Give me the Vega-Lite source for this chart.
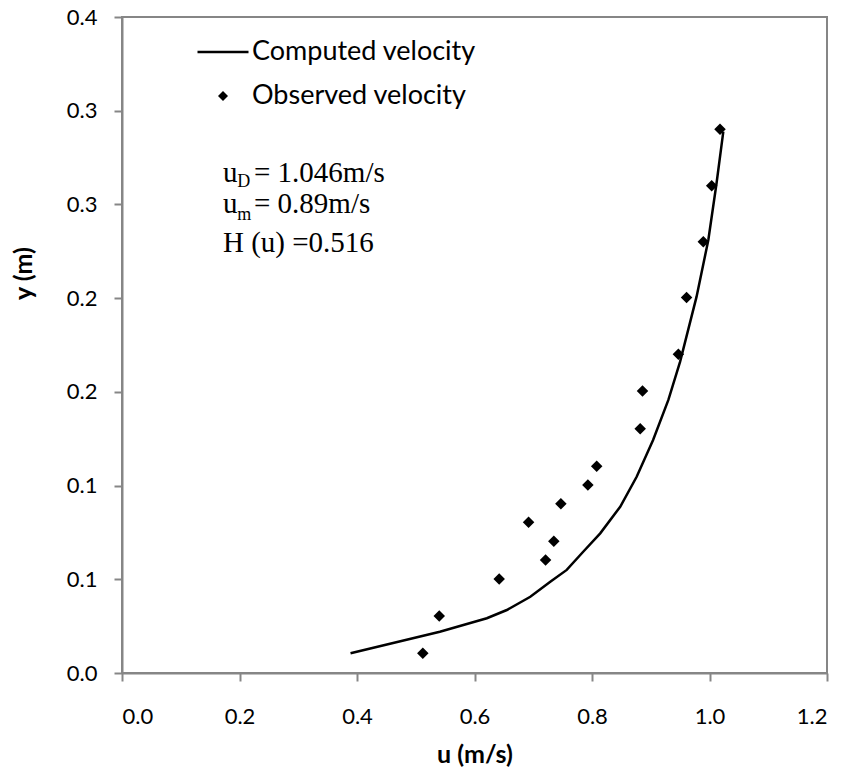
{
  "$schema": "https://vega.github.io/schema/vega-lite/v6.json",
  "width": 705,
  "height": 656,
  "autosize": {"type": "none"},
  "padding": {"left": 122, "top": 17, "right": 21, "bottom": 101},
  "background": "white",
  "config": {
    "view": {"stroke": "#868686", "strokeWidth": 2},
    "axis": {
      "domainColor": "#868686", "domainWidth": 2,
      "tickColor": "#868686", "tickWidth": 2, "tickSize": 8,
      "grid": false,
      "labelFont": "Lato", "labelFontSize": 22, "labelColor": "black",
      "titleFont": "Lato", "titleFontSize": 25, "titleFontWeight": "bold", "titleColor": "black"
    },
    "legend": {
      "labelFont": "Lato", "labelFontSize": 27, "labelColor": "black", "labelLimit": 0
    }
  },
  "datasets": {
    "computed": [
      {"u": 0.389, "y": 0.0105, "series": "Computed velocity"},
      {"u": 0.541, "y": 0.022, "series": "Computed velocity"},
      {"u": 0.621, "y": 0.0292, "series": "Computed velocity"},
      {"u": 0.655, "y": 0.0336, "series": "Computed velocity"},
      {"u": 0.695, "y": 0.0407, "series": "Computed velocity"},
      {"u": 0.729, "y": 0.0487, "series": "Computed velocity"},
      {"u": 0.757, "y": 0.055, "series": "Computed velocity"},
      {"u": 0.785, "y": 0.0647, "series": "Computed velocity"},
      {"u": 0.814, "y": 0.0745, "series": "Computed velocity"},
      {"u": 0.848, "y": 0.0887, "series": "Computed velocity"},
      {"u": 0.876, "y": 0.1047, "series": "Computed velocity"},
      {"u": 0.904, "y": 0.1243, "series": "Computed velocity"},
      {"u": 0.930, "y": 0.1457, "series": "Computed velocity"},
      {"u": 0.950, "y": 0.1661, "series": "Computed velocity"},
      {"u": 0.978, "y": 0.2008, "series": "Computed velocity"},
      {"u": 0.998, "y": 0.231, "series": "Computed velocity"},
      {"u": 1.012, "y": 0.2613, "series": "Computed velocity"},
      {"u": 1.0235, "y": 0.2888, "series": "Computed velocity"}
    ],
    "observed": [
      {"u": 0.512, "y": 0.0105, "series": "Observed velocity"},
      {"u": 0.540, "y": 0.0304, "series": "Observed velocity"},
      {"u": 0.642, "y": 0.0502, "series": "Observed velocity"},
      {"u": 0.692, "y": 0.0804, "series": "Observed velocity"},
      {"u": 0.721, "y": 0.0603, "series": "Observed velocity"},
      {"u": 0.735, "y": 0.0703, "series": "Observed velocity"},
      {"u": 0.747, "y": 0.0903, "series": "Observed velocity"},
      {"u": 0.793, "y": 0.1003, "series": "Observed velocity"},
      {"u": 0.808, "y": 0.1103, "series": "Observed velocity"},
      {"u": 0.882, "y": 0.1303, "series": "Observed velocity"},
      {"u": 0.886, "y": 0.1505, "series": "Observed velocity"},
      {"u": 0.947, "y": 0.170, "series": "Observed velocity"},
      {"u": 0.961, "y": 0.2003, "series": "Observed velocity"},
      {"u": 0.9895, "y": 0.2301, "series": "Observed velocity"},
      {"u": 1.0037, "y": 0.260, "series": "Observed velocity"},
      {"u": 1.0179, "y": 0.2901, "series": "Observed velocity"}
    ],
    "one": [{"k": 1}]
  },
  "layer": [
    {
      "data": {"name": "computed"},
      "mark": {"type": "line", "color": "black", "strokeWidth": 2.5},
      "encoding": {
        "x": {
          "field": "u", "type": "quantitative",
          "scale": {"domain": [0, 1.2], "nice": false, "zero": false},
          "axis": {
            "title": "u (m/s)",
            "values": [0, 0.2, 0.4, 0.6, 0.8, 1.0, 1.2],
            "format": ".1f",
            "labelPadding": 25,
            "titleY": 89, "titleBaseline": "alphabetic"
          }
        },
        "y": {
          "field": "y", "type": "quantitative",
          "scale": {"domain": [0, 0.35], "nice": false, "zero": false},
          "axis": {
            "title": "y (m)",
            "values": [0, 0.05, 0.1, 0.15, 0.2, 0.25, 0.3, 0.35],
            "labelExpr": "format(round(datum.value*10+0.001)/10, '.1f')",
            "labelPadding": 17,
            "titleAngle": 270, "titleX": -91, "titleY": 256,
            "titleAlign": "center", "titleBaseline": "alphabetic"
          }
        }
      }
    },
    {
      "data": {"name": "observed"},
      "mark": {"type": "point", "filled": true, "color": "black", "opacity": 1, "size": 529},
      "encoding": {
        "x": {"field": "u", "type": "quantitative"},
        "y": {"field": "y", "type": "quantitative"},
        "shape": {
          "field": "series", "type": "nominal",
          "scale": {
            "domain": ["Computed velocity", "Observed velocity"],
            "range": ["M-2.55,-0.12L2.55,-0.12L2.55,0.12L-2.55,0.12Z", "M0,-0.5L0.5,0L0,0.5L-0.5,0Z"]
          },
          "legend": {
            "title": null,
            "orient": "none",
            "legendX": 87.5,
            "legendY": 21.5,
            "padding": 0,
            "symbolSize": 400,
            "symbolFillColor": "black",
            "symbolOpacity": 1,
            "labelOffset": 15.5,
            "rowPadding": 16
          }
        }
      }
    },
    {
      "data": {"name": "one"},
      "mark": {"type": "text", "text": "u", "font": "Liberation Serif", "fontSize": 29, "align": "left", "baseline": "alphabetic", "color": "black"},
      "encoding": {"x": {"datum": 0.1719, "type": "quantitative"}, "y": {"datum": 0.26196, "type": "quantitative"}}
    },
    {
      "data": {"name": "one"},
      "mark": {"type": "text", "text": "D", "font": "Liberation Serif", "fontSize": 18, "align": "left", "baseline": "alphabetic", "color": "black"},
      "encoding": {"x": {"datum": 0.1963, "type": "quantitative"}, "y": {"datum": 0.25946, "type": "quantitative"}}
    },
    {
      "data": {"name": "one"},
      "mark": {"type": "text", "text": "= 1.046m/s", "font": "Liberation Serif", "fontSize": 29, "align": "left", "baseline": "alphabetic", "color": "black"},
      "encoding": {"x": {"datum": 0.2247, "type": "quantitative"}, "y": {"datum": 0.26196, "type": "quantitative"}}
    },
    {
      "data": {"name": "one"},
      "mark": {"type": "text", "text": "u", "font": "Liberation Serif", "fontSize": 29, "align": "left", "baseline": "alphabetic", "color": "black"},
      "encoding": {"x": {"datum": 0.1719, "type": "quantitative"}, "y": {"datum": 0.24527, "type": "quantitative"}}
    },
    {
      "data": {"name": "one"},
      "mark": {"type": "text", "text": "m", "font": "Liberation Serif", "fontSize": 18, "align": "left", "baseline": "alphabetic", "color": "black"},
      "encoding": {"x": {"datum": 0.1963, "type": "quantitative"}, "y": {"datum": 0.24169, "type": "quantitative"}}
    },
    {
      "data": {"name": "one"},
      "mark": {"type": "text", "text": "= 0.89m/s", "font": "Liberation Serif", "fontSize": 29, "align": "left", "baseline": "alphabetic", "color": "black"},
      "encoding": {"x": {"datum": 0.2247, "type": "quantitative"}, "y": {"datum": 0.24527, "type": "quantitative"}}
    },
    {
      "data": {"name": "one"},
      "mark": {"type": "text", "text": "H (u) =0.516", "font": "Liberation Serif", "fontSize": 29, "align": "left", "baseline": "alphabetic", "color": "black"},
      "encoding": {"x": {"datum": 0.1719, "type": "quantitative"}, "y": {"datum": 0.2246, "type": "quantitative"}}
    }
  ]
}
